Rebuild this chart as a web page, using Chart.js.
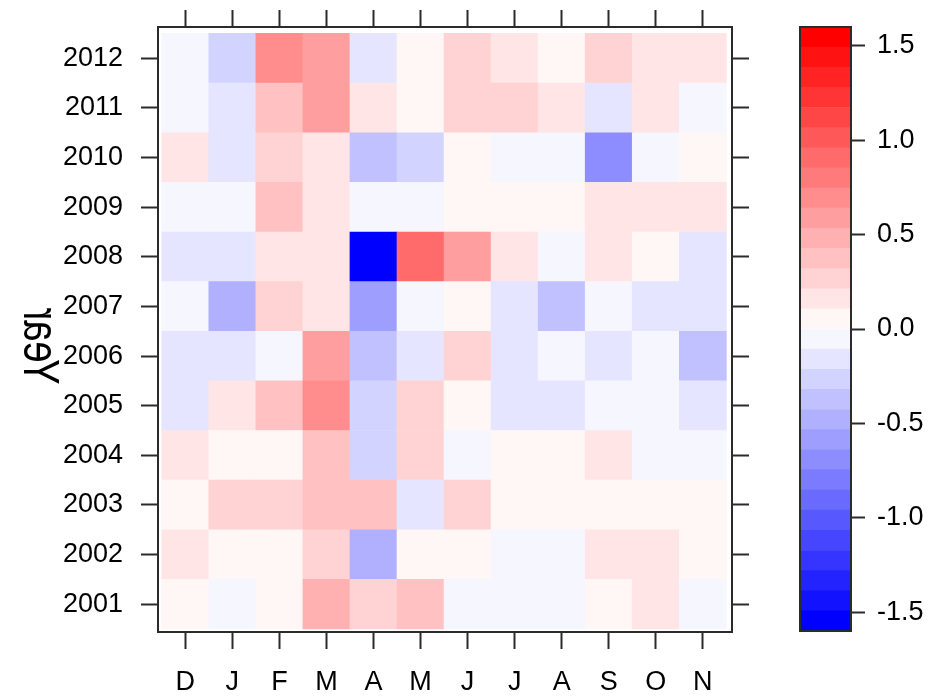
<!DOCTYPE html>
<html>
<head>
<meta charset="utf-8">
<title>Monthly anomalies by year</title>
<script src="https://cdn.jsdelivr.net/npm/chart.js@4.4.1/dist/chart.umd.min.js"></script>
<style>
  body { margin: 0; background: #fff; }
  #wrap { position: relative; width: 932px; height: 696px; }
  #main { position: absolute; left: 0; top: 0; }
  #key { position: absolute; left: 780px; top: 0; }
</style>
</head>
<body>
<div id="wrap">
  <canvas id="main" width="932" height="696"></canvas>
  <canvas id="key" width="152" height="696"></canvas>
</div>
<script>
var months = ['D', 'J', 'F', 'M', 'A', 'M', 'J', 'J', 'A', 'S', 'O', 'N'];
var years = [2001, 2002, 2003, 2004, 2005, 2006, 2007, 2008, 2009, 2010, 2011, 2012];

// values per year, months in the order above (Dec .. Nov)
var y2001 = [0.04, -0.06, 0.05, 0.47, 0.27, 0.37, -0.04, -0.05, -0.06, 0.06, 0.16, -0.05];
var y2002 = [0.17, 0.06, 0.04, 0.26, -0.49, 0.05, 0.06, -0.05, -0.06, 0.15, 0.17, 0.05];
var y2003 = [0.05, 0.27, 0.26, 0.38, 0.36, -0.15, 0.28, 0.04, 0.06, 0.05, 0.04, 0.06];
var y2004 = [0.16, 0.05, 0.04, 0.37, -0.28, 0.26, -0.05, 0.06, 0.05, 0.16, -0.04, -0.06];
var y2005 = [-0.17, 0.15, 0.38, 0.70, -0.26, 0.28, 0.06, -0.16, -0.15, -0.05, -0.06, -0.15];
var y2006 = [-0.16, -0.15, -0.05, 0.59, -0.36, -0.17, 0.26, -0.14, -0.05, -0.16, -0.04, -0.38];
var y2007 = [-0.05, -0.48, 0.28, 0.16, -0.59, -0.04, 0.05, -0.15, -0.37, -0.06, -0.17, -0.14];
var y2008 = [-0.15, -0.17, 0.16, 0.18, -1.57, 0.90, 0.58, 0.17, -0.04, 0.15, 0.05, -0.16];
var y2009 = [-0.06, -0.05, 0.36, 0.16, -0.04, -0.06, 0.05, 0.04, 0.06, 0.17, 0.15, 0.18];
var y2010 = [0.15, -0.16, 0.28, 0.17, -0.38, -0.25, 0.03, -0.05, -0.04, -0.70, -0.05, 0.06];
var y2011 = [-0.04, -0.15, 0.38, 0.60, 0.16, 0.05, 0.27, 0.25, 0.14, -0.18, 0.16, -0.06];
var y2012 = [-0.05, -0.27, 0.70, 0.58, -0.17, 0.04, 0.28, 0.15, 0.06, 0.26, 0.17, 0.15];
var rows = [y2001, y2002, y2003, y2004, y2005, y2006, y2007, y2008, y2009, y2010, y2011, y2012];

// colour key
var keyMin = -1.6, keyMax = 1.6, keyCuts = 30;
var keyTicks = [-1.5, -1.0, -0.5, 0.0, 0.5, 1.0, 1.5];

var font = { family: "'Liberation Sans', Arial, sans-serif", size: 27 };
var lineCol = '#2b2b2b';

function rampColor(k) {
    var t = k / (keyCuts - 1), r, g, b;
    if (t < 0.5) { r = g = Math.round(510 * t); b = 255; }
    else { r = 255; g = b = Math.round(255 * (2 - 2 * t)); }
    return 'rgb(' + r + ',' + g + ',' + b + ')';
}
function bandOf(v) {
    var k = Math.floor((v - keyMin) / (keyMax - keyMin) * keyCuts);
    return Math.max(0, Math.min(keyCuts - 1, k));
}

var monthTicks = function (s) { s.ticks = months.map(function (m, i) { return { value: i }; }); };
var yearTicks = function (s) { s.ticks = years.map(function (y) { return { value: y }; }); };
var gridOpts = { offset: false, drawOnChartArea: false, drawTicks: true, tickLength: 17, tickWidth: 2, tickColor: lineCol, color: lineCol };
var borderOpts = { display: true, color: lineCol, width: 2 };

var cellSets = years.map(function (yr, i) {
    return {
        label: String(yr),
        data: months.map(function (m, j) { return { x: j, y: [yr - 0.5, yr + 0.5] }; }),
        backgroundColor: rows[i].map(function (v) { return rampColor(bandOf(v)); }),
        borderWidth: 0,
        grouped: false,
        barPercentage: 1,
        categoryPercentage: 1
    };
});

var yearLabel = {
    id: 'yearLabel',
    afterDraw: function (chart) {
        var ctx = chart.ctx;
        ctx.save();
        ctx.translate(38, 346);
        ctx.rotate(-Math.PI / 2);
        ctx.scale(1, -1.3);
        ctx.font = "38px 'Liberation Sans', Arial, sans-serif";
        ctx.fillStyle = '#000';
        ctx.textAlign = 'center';
        ctx.textBaseline = 'middle';
        ctx.fillText('Year', 0, 0);
        ctx.restore();
    }
};

new Chart(document.getElementById('main'), {
    type: 'bar',
    data: { datasets: cellSets },
    plugins: [yearLabel],
    options: {
        responsive: false,
        animation: false,
        layout: { padding: 0 },
        plugins: { legend: { display: false }, tooltip: { enabled: false } },
        scales: {
            x: {
                type: 'linear', position: 'bottom', min: -0.58, max: 11.62, offset: false,
                afterBuildTicks: monthTicks,
                ticks: { callback: function (v) { return months[v]; }, font: font, color: '#000', padding: 17, autoSkip: false, maxRotation: 0 },
                grid: gridOpts, border: borderOpts,
                afterFit: function (s) { s.height = 64; s.paddingLeft = 0; s.paddingRight = 0; }
            },
            x2: {
                type: 'linear', position: 'top', min: -0.58, max: 11.62, offset: false,
                afterBuildTicks: monthTicks,
                ticks: { display: false },
                grid: gridOpts, border: borderOpts,
                afterFit: function (s) { s.height = 27; s.paddingLeft = 0; s.paddingRight = 0; }
            },
            y: {
                type: 'linear', position: 'left', min: 2000.44, max: 2012.63,
                afterBuildTicks: yearTicks,
                ticks: { callback: function (v) { return String(v); }, font: font, color: '#000', padding: 18, autoSkip: false },
                grid: gridOpts, border: borderOpts,
                afterFit: function (s) { s.width = 158; s.paddingTop = 0; s.paddingBottom = 0; }
            },
            y2: {
                type: 'linear', position: 'right', min: 2000.44, max: 2012.63,
                afterBuildTicks: yearTicks,
                ticks: { display: false },
                grid: gridOpts, border: borderOpts,
                afterFit: function (s) { s.width = 200; s.paddingTop = 0; s.paddingBottom = 0; }
            }
        }
    }
});

// colour key as a stack of floating bars
var keySets = [];
for (var k = 0; k < keyCuts; k++) {
    var lo = keyMin + k * (keyMax - keyMin) / keyCuts;
    var hi = keyMin + (k + 1) * (keyMax - keyMin) / keyCuts;
    keySets.push({
        data: [[lo, hi]],
        backgroundColor: rampColor(k),
        borderWidth: 0,
        grouped: false,
        barPercentage: 1,
        categoryPercentage: 1
    });
}

var keyBox = {
    id: 'keyBox',
    afterDatasetsDraw: function (chart) {
        var a = chart.chartArea, ctx = chart.ctx;
        ctx.save();
        ctx.strokeStyle = lineCol;
        ctx.lineWidth = 2;
        ctx.strokeRect(a.left, a.top, a.right - a.left, a.bottom - a.top);
        ctx.restore();
    }
};

new Chart(document.getElementById('key'), {
    type: 'bar',
    data: { labels: [''], datasets: keySets },
    plugins: [keyBox],
    options: {
        responsive: false,
        animation: false,
        layout: { padding: { left: 20, top: 27, bottom: 65, right: 0 } },
        plugins: { legend: { display: false }, tooltip: { enabled: false } },
        scales: {
            x: { display: false },
            y: {
                type: 'linear', position: 'right', min: keyMin, max: keyMax,
                afterBuildTicks: function (s) { s.ticks = keyTicks.map(function (v) { return { value: v }; }); },
                ticks: { callback: function (v) { return v.toFixed(1); }, font: font, color: '#000', padding: 12 },
                grid: { drawOnChartArea: false, drawTicks: true, tickLength: 14, tickWidth: 2, tickColor: lineCol, color: lineCol },
                border: borderOpts,
                afterFit: function (s) { s.width = 81; s.paddingTop = 0; s.paddingBottom = 0; }
            }
        }
    }
});
</script>
</body>
</html>
